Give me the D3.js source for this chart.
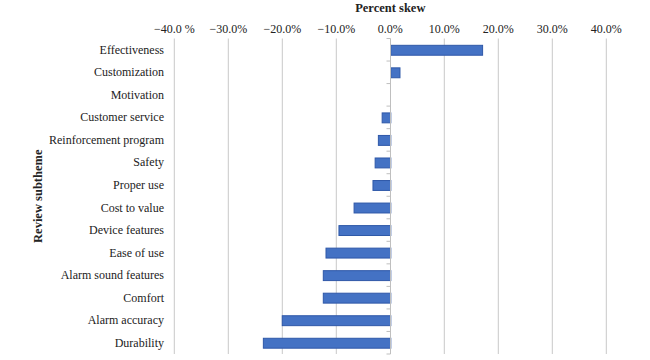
<html>
<script src="https://d3js.org/d3.v7.min.js"></script>
<body style="margin:0;background:#fff"></body>
<script>
const width = 650;
const height = 360;

const categories = ['Effectiveness','Customization','Motivation','Customer service','Reinforcement program','Safety','Proper use','Cost to value','Device features','Ease of use','Alarm sound features','Comfort','Alarm accuracy','Durability'];
const skew = [17.0, 1.7, 0, -1.6, -2.3, -2.9, -3.3, -6.8, -9.6, -12.0, -12.5, -12.5, -20.1, -23.6];
const ticks = [-40, -30, -20, -10, 0, 10, 20, 30, 40];
const tickLabels = ['\u221240.0 %', '\u221230.0%', '\u221220.0%', '\u221210.0%', '0.0%', '10.0%', '20.0%', '30.0%', '40.0%'];

const m = {left: 174.3, right: 43.7, top: 38.5, bottom: 6};
const font = '"Liberation Serif", "Times New Roman", serif';

const x = d3.scaleLinear().domain([-40, 40]).range([m.left, width - m.right]);
const y = d3.scaleBand().domain(categories).range([m.top, height - m.bottom]).paddingInner(0.56).paddingOuter(0.28);

const svg = d3.select('body').append('svg')
    .attr('width', width)
    .attr('height', height)
    .style('font-family', font);

// gridlines
svg.append('g')
    .selectAll('line')
    .data(ticks.filter(d => d !== 0))
    .enter()
    .append('line')
        .attr('x1', d => x(d)).attr('x2', d => x(d))
        .attr('y1', m.top).attr('y2', height - m.bottom)
        .attr('stroke', '#c8c8c8')
        .attr('stroke-width', 1);

// top tick labels
svg.append('g')
    .selectAll('text')
    .data(ticks)
    .enter()
    .append('text')
        .attr('x', d => x(d))
        .attr('y', 33)
        .attr('text-anchor', 'middle')
        .attr('font-size', 12)
        .attr('fill', '#222')
        .text((d, i) => tickLabels[i]);

svg.append('text')
    .attr('x', x(0))
    .attr('y', 12)
    .attr('text-anchor', 'middle')
    .attr('font-size', 12.5)
    .attr('font-weight', 'bold')
    .attr('fill', '#222')
    .text('Percent skew');

// bars
svg.append('g')
    .selectAll('rect')
    .data(skew)
    .enter()
    .append('rect')
        .attr('x', d => x(Math.min(0, d)) + 0.5)
        .attr('y', (d, i) => y(categories[i]) + 0.5)
        .attr('width', d => Math.abs(x(d) - x(0)))
        .attr('height', y.bandwidth())
        .attr('fill', d => d === 0 ? 'none' : '#4472c4')
        .attr('stroke', d => d === 0 ? 'none' : '#2f58a8')
        .attr('stroke-width', 1);

// zero axis with ticks on the left
const axisStep = (height - m.bottom - m.top) / categories.length;
const zx = Math.round(x(0)) + 0.5;
svg.append('line')
    .attr('x1', zx).attr('x2', zx)
    .attr('y1', m.top).attr('y2', height - m.bottom)
    .attr('stroke', '#bfbfbf');
svg.append('g')
    .selectAll('line')
    .data(d3.range(categories.length + 1))
    .enter()
    .append('line')
        .attr('x1', zx - 4).attr('x2', zx)
        .attr('y1', i => m.top + i * axisStep)
        .attr('y2', i => m.top + i * axisStep)
        .attr('stroke', '#bfbfbf');

// category labels
svg.append('g')
    .selectAll('text')
    .data(categories)
    .enter()
    .append('text')
        .attr('x', 164)
        .attr('y', d => y(d) + y.bandwidth() / 2 + 4)
        .attr('text-anchor', 'end')
        .attr('font-size', 12)
        .attr('fill', '#222')
        .text(d => d);

svg.append('text')
    .attr('transform', `translate(42,${(m.top + height - m.bottom) / 2}) rotate(-90)`)
    .attr('text-anchor', 'middle')
    .attr('font-size', 12.5)
    .attr('font-weight', 'bold')
    .attr('fill', '#222')
    .text('Review subtheme');
</script>
</html>
